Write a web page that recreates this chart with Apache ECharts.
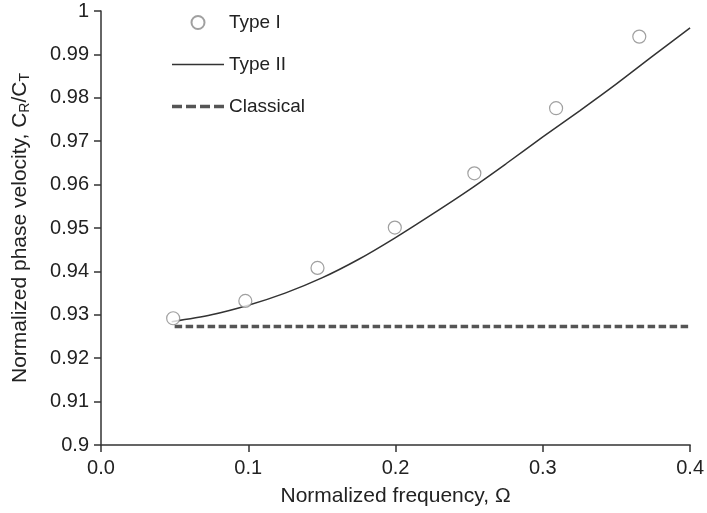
<!DOCTYPE html>
<html>
<head>
<meta charset="utf-8">
<script src="https://cdn.jsdelivr.net/npm/echarts@6/dist/echarts.min.js"></script>
<style>
  html, body { margin: 0; padding: 0; background: #fff; }
  #chart { width: 707px; height: 513px; }
</style>
</head>
<body>
<div id="chart"></div>
<script>
// Type I (markers)
const typeOneX = [0.049, 0.098, 0.147, 0.1995, 0.2535, 0.309, 0.3655];
const typeOneY = [0.9292, 0.9332, 0.9408, 0.9501, 0.9626, 0.9776, 0.9941];
// Type II (solid curve)
const typeTwoX = [0.048, 0.075, 0.1, 0.125, 0.15, 0.175, 0.2, 0.225, 0.25, 0.275, 0.3, 0.325, 0.35, 0.375, 0.4];
const typeTwoY = [0.9284, 0.9300, 0.9322, 0.9350, 0.9385, 0.9428, 0.9478, 0.9532, 0.9588, 0.9648, 0.9710, 0.9770, 0.9832, 0.9897, 0.9961];
// Classical (dashed)
const classicalX = [0.05, 0.4];
const classicalY = [0.9273, 0.9273];

const font = 'Liberation Sans, Arial, sans-serif';
const pair = (xs, ys) => xs.map((x, i) => [x, ys[i]]);

const chart = echarts.init(document.getElementById('chart'));
const option = {
  animation: false,
  backgroundColor: '#fff',
  textStyle: { fontFamily: font },
  grid: { left: 101, right: 16, top: 11, bottom: 68 },
  legend: {
    orient: 'vertical',
    left: 167,
    top: 8,
    itemWidth: 52,
    itemHeight: 13,
    itemGap: 23,
    textStyle: { fontSize: 19, color: '#222', fontFamily: font },
    data: [
      { name: 'Type I', icon: 'circle' },
      { name: 'Type II', icon: 'path://M0,0H52V1.5H0Z' },
      {
        name: 'Classical',
        icon: 'path://M0,0h10v3.5h-10z M14,0h10v3.5h-10z M28,0h10v3.5h-10z M42,0h10v3.5h-10z'
      }
    ]
  },
  xAxis: {
    type: 'value',
    min: 0,
    max: 0.4,
    interval: 0.1,
    name: 'Normalized frequency, Ω',
    nameLocation: 'middle',
    nameGap: 41,
    nameTextStyle: { fontSize: 21, color: '#222' },
    axisLine: { lineStyle: { color: '#333', width: 1.5 } },
    axisTick: { length: 7, lineStyle: { color: '#333', width: 1.5 } },
    axisLabel: {
      fontSize: 20,
      color: '#222',
      margin: 13,
      formatter: v => v.toFixed(1)
    },
    splitLine: { show: false }
  },
  yAxis: {
    type: 'value',
    min: 0.9,
    max: 1,
    interval: 0.01,
    name: '{n|Normalized phase velocity, C}{s|R}{n|/C}{s|T}',
    nameLocation: 'middle',
    nameRotate: 90,
    nameGap: 69,
    nameTextStyle: {
      rich: {
        n: { fontSize: 21, color: '#222', fontFamily: font },
        s: { fontSize: 14, color: '#222', fontFamily: font, verticalAlign: 'bottom', padding: [10, 0, 0, 0] }
      }
    },
    axisLine: { show: true, lineStyle: { color: '#333', width: 1.5 } },
    axisTick: { show: true, length: 7, lineStyle: { color: '#333', width: 1.5 } },
    axisLabel: {
      fontSize: 20,
      color: '#222',
      margin: 12,
      formatter: v => String(Math.round(v * 100) / 100)
    },
    splitLine: { show: false }
  },
  series: [
    {
      name: 'Type I',
      type: 'scatter',
      symbol: 'circle',
      symbolSize: 13,
      itemStyle: { color: '#fff', borderColor: '#888', borderWidth: 1.2 },
      data: pair(typeOneX, typeOneY),
      z: 3
    },
    {
      name: 'Type II',
      type: 'line',
      smooth: 0.3,
      symbol: 'none',
      lineStyle: { color: '#333', width: 1.5 },
      itemStyle: { color: '#333' },
      data: pair(typeTwoX, typeTwoY),
      z: 2
    },
    {
      name: 'Classical',
      type: 'line',
      symbol: 'none',
      lineStyle: { color: '#555', width: 3.5, type: [7.5, 3.5] },
      itemStyle: { color: '#555' },
      data: pair(classicalX, classicalY),
      z: 1
    }
  ]
};
chart.setOption(option);
</script>
</body>
</html>
